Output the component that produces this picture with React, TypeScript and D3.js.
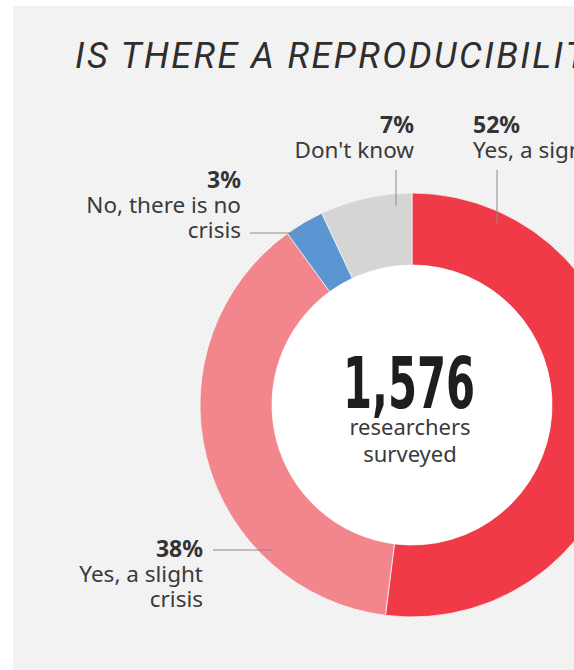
import React from "react";
import * as d3 from "d3";

const title = "IS THERE A REPRODUCIBILITY CRISIS?";
const categories = ["Yes, a significant crisis", "Yes, a slight crisis", "No, there is no crisis", "Don't know"];
const values = [52, 38, 3, 7];
const labelLines = [["Yes, a significant crisis"], ["Yes, a slight", "crisis"], ["No, there is no", "crisis"], ["Don't know"]];
const colors = ["#f03a48", "#f3858c", "#5b96d3", "#d5d5d5"];
const totalSurveyed = 1576;
const centerLines = ["researchers", "surveyed"];

const W = 574, H = 670;
const cx = 412, cy = 405, rOuter = 212, rInner = 140;

// label layout: anchor position, text-anchor, leader line
const labelLayout = [
  { x: 473, y: 133, anchor: "start", leader: { type: "v", x: 497, y1: 170, angle: 25.3 } },
  { x: 203, y: 557, anchor: "end", leader: { type: "h", y: 550, x1: 213, angle: 224.4 } },
  { x: 241, y: 188, anchor: "end", leader: { type: "h", y: 233, x1: 250, angle: 328.1 } },
  { x: 414, y: 133, anchor: "end", leader: { type: "v", x: 396, y1: 170, angle: 355.4 } },
];

export default function App() {
  const pie = d3.pie<number>().sort(null).value((d) => d)(values);
  const arc = d3.arc<d3.PieArcDatum<number>>().innerRadius(rInner).outerRadius(rOuter);
  const fmt = d3.format(",");
  const font = "'Noto Sans', 'Open Sans', sans-serif";

  return (
    <svg width={W} height={H} style={{ position: "absolute", left: 0, top: 0, display: "block" }}>
      <defs>
        <pattern id="tex" width="4" height="4" patternUnits="userSpaceOnUse">
          <rect width="4" height="4" fill="#efefef" />
          <path d="M0,4 L4,0 M-1,1 L1,-1 M3,5 L5,3" stroke="#f8f8f8" strokeWidth="1.2" />
        </pattern>
      </defs>
      <rect x={0} y={0} width={W} height={H} fill="#ffffff" />
      <rect x={13} y={6} width={W - 13} height={H - 6} fill="url(#tex)" />
      <text x={75} y={68} fontFamily="Roboto, sans-serif" fontStyle="italic" fontWeight={400} fontSize={36} fill="#2e2e2e">
        <tspan textLength={488} lengthAdjust="spacing">{title.slice(0, 24)}</tspan>
        <tspan letterSpacing={2}>{title.slice(24)}</tspan>
      </text>
      <g transform={`translate(${cx},${cy})`}>
        {pie.map((p, i) => (
          <path key={categories[i]} d={arc(p) || ""} fill={colors[i]} stroke="#f4f4f4" strokeWidth={0.8} />
        ))}
        <circle r={rInner} fill="#ffffff" />
      </g>
      {labelLayout.map((l, i) => {
        const [px, py] = d3.pointRadial((l.leader.angle * Math.PI) / 180, 200);
        const ex = cx + px, ey = cy + py;
        return (
          <g key={categories[i]}>
            {l.leader.type === "v" ? (
              <line x1={l.leader.x} x2={l.leader.x} y1={l.leader.y1} y2={ey} stroke="#8a8a8a" strokeWidth={1} />
            ) : (
              <line x1={l.leader.x1} x2={ex} y1={l.leader.y} y2={l.leader.y} stroke="#8a8a8a" strokeWidth={1} />
            )}
            <text x={l.x} y={l.y} textAnchor={l.anchor} fontFamily={font} fontWeight={700} fontSize={23} fill="#333">
              {values[i]}%
            </text>
            {labelLines[i].map((t, j) => (
              <text key={j} x={l.x} y={l.y + 25 * (j + 1)} textAnchor={l.anchor} fontFamily={font} fontSize={22.5} fill="#3a3a3a">
                {t}
              </text>
            ))}
          </g>
        );
      })}
      <text x={409} y={408} textAnchor="middle" fontFamily="'DejaVu Sans Condensed', 'Liberation Sans Narrow', sans-serif" fontWeight={700} fontSize={71} fill="#1e1e1e" textLength={132} lengthAdjust="spacingAndGlyphs">
        {fmt(totalSurveyed)}
      </text>
      {centerLines.map((t, j) => (
        <text key={t} x={410} y={435 + 27 * j} textAnchor="middle" fontFamily={font} fontSize={22} fill="#3a3a3a">
          {t}
        </text>
      ))}
    </svg>
  );
}
